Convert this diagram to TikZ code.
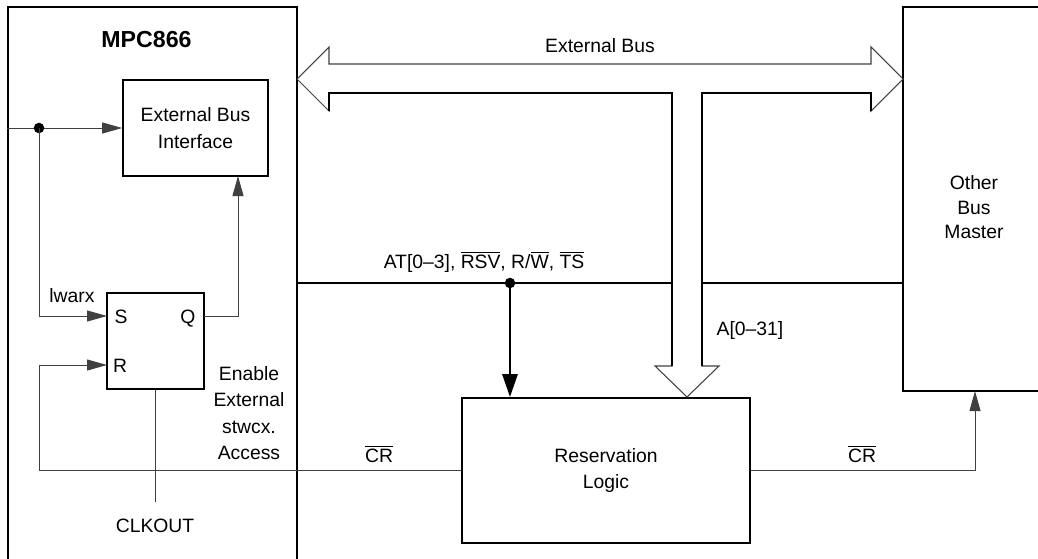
\documentclass[tikz,border=0pt]{standalone}
\usepackage{fontspec}
\setmainfont{Liberation Sans}
\usetikzlibrary{arrows.meta}

\begin{document}
\begin{tikzpicture}[x=0.02cm, y=-0.02cm,
  font=\fontsize{11}{15}\selectfont, every node/.style={align=center},
  blk/.style={draw=black, line width=1pt, inner sep=0pt},
  w/.style={draw=black!75, line width=0.55pt},
  e/.style={w, -{Triangle[length=4mm,width=2.2mm]}},
  bus/.style={draw=black, line width=1.6pt},
  eb/.style={bus, -{Triangle[length=4.6mm,width=3mm]}},
  lb/.style={anchor=base, inner sep=0pt},
]
\useasboundingbox (0,0) rectangle (1038,558);
\node[blk, minimum width=5.78cm, minimum height=11.86cm] (mpc) at (152.5,303.5) {};
\node[lb, font=\fontsize{13.2}{15}\selectfont\bfseries] (mpcname) at (146.5,47) {MPC866};
\node[blk, minimum width=2.9cm, minimum height=1.92cm] (ebi) at (195.5,128) {External Bus\\Interface};
\node[blk, minimum width=1.94cm, minimum height=1.92cm] (sr) at (155.5,341) {};
\node[lb] (sS) at (121,323) {S};
\node[lb] (sQ) at (188,323) {Q};
\node[lb] (sR) at (120,372) {R};
\node[lb] (lw) at (72,302) {lwarx};
\node (en) at (249,413) {Enable\\External\\stwcx.\\Access};
\node[lb] (clk) at (155,532) {CLKOUT};
\node[blk, minimum width=5.76cm, minimum height=2.9cm] (rl) at (606,470.5) {Reservation\\Logic};
\node[blk, minimum width=3.6cm, minimum height=7.68cm] (obm) at (993,199) {};
\node[font=\fontsize{11}{13.9}\selectfont] (obmtxt) at (974,207.5) {Other\\Bus\\Master};
\node[lb] (ebl) at (600,52) {External Bus};
\node[lb] (atl) at (484,268) {AT[0–3], $\overline{\mbox{RSV}}$, R/$\overline{\mbox{W}}$, $\overline{\mbox{TS}}$};
\node[lb] (al) at (750,335) {A[0–31]};
\node[lb] (cr1) at (379,462) {$\overline{\mbox{CR}}$};
\node[lb] (cr2) at (862,462) {$\overline{\mbox{CR}}$};
\coordinate (j1) at (39,128);
\coordinate (sin) at (107,316);
\coordinate (rin) at (107,365);
\coordinate (qout) at (204,316);
\coordinate (qin) at (238,176);
\coordinate (j2) at (510,283);
\coordinate (cro) at (975,391);
\draw[w, line width=0.6pt] (297,79) -- (329,47) -- (329,64) -- (871,64) -- (871,47) -- (903,79)
  -- (871,111) -- (871,93) -- (702,93) -- (702,366) -- (719,366) -- (687,397) -- (655,366)
  -- (672,366) -- (672,93) -- (329,93) -- (329,111) -- cycle;
\draw[draw=black, line width=1pt] (329,111) -- (329,93) -- (672,93) -- (672,366);
\draw[draw=black, line width=1pt] (702,366) -- (702,93) -- (871,93) -- (871,111);
\draw[e] (mpc.west |- ebi.west) -- (ebi.west);
\fill (j1) circle (3pt);
\draw[e] (j1) |- (sin);
\draw[e] (qout) -| (qin);
\draw[e] (rl.west) -| (j1 |- rin) -- (rin);
\draw[w] (sr.south) -- ++(0,112);
\draw[e] (rl.east) -| (cro);
\draw[bus] (mpc.east |- j2) -- (672,283);
\draw[bus] (702,283) -- (obm.west |- j2);
\fill (j2) circle (3pt);
\draw[eb] (j2) -- (rl.north -| j2);
\end{tikzpicture}
\end{document}
